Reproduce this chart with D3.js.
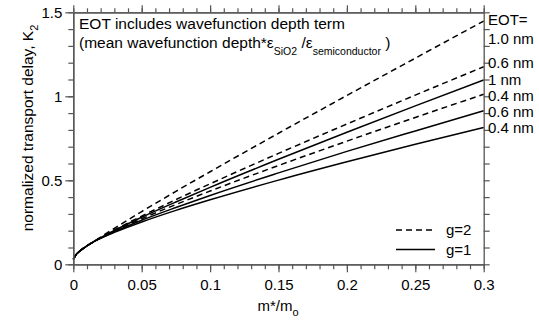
<!DOCTYPE html>
<html><head><meta charset="utf-8">
<script src="https://cdn.jsdelivr.net/npm/d3@7"></script>
<style>body{margin:0;background:#fff}svg{display:block}text{font-family:"Liberation Sans",Arial,sans-serif;fill:#000}</style>
</head><body>
<svg id="c" width="539" height="320"></svg>
<script>
const massRatio = [0, 0.0025, 0.005, 0.01, 0.015, 0.02, 0.03, 0.05, 0.075, 0.1, 0.15, 0.2, 0.25, 0.3];
const g2_eot10 = [0.030, 0.062, 0.080, 0.110, 0.135, 0.162, 0.214, 0.314, 0.434, 0.551, 0.780, 1.005, 1.227, 1.448];
const g2_eot06 = [0.030, 0.062, 0.080, 0.110, 0.135, 0.159, 0.204, 0.287, 0.385, 0.479, 0.660, 0.835, 1.007, 1.176];
const g1_eot10 = [0.030, 0.062, 0.080, 0.110, 0.135, 0.158, 0.201, 0.280, 0.371, 0.458, 0.625, 0.786, 0.943, 1.097];
const g2_eot04 = [0.030, 0.062, 0.080, 0.110, 0.135, 0.157, 0.198, 0.271, 0.356, 0.436, 0.588, 0.733, 0.874, 1.012];
const g1_eot06 = [0.030, 0.062, 0.080, 0.110, 0.135, 0.156, 0.194, 0.262, 0.338, 0.410, 0.544, 0.672, 0.794, 0.914];
const g1_eot04 = [0.030, 0.062, 0.080, 0.110, 0.135, 0.155, 0.190, 0.252, 0.321, 0.384, 0.501, 0.610, 0.714, 0.815];
const seriesNames = ["g=2, 1.0 nm", "g=2, 0.6 nm", "g=1, 1 nm", "g=2, 0.4 nm", "g=1, 0.6 nm", "g=1, 0.4 nm"];
const seriesDashed = [true, true, false, true, false, false];
const eotLabels = ["EOT=", "1.0 nm", "0.6 nm", "1 nm", "0.4 nm", "0.6 nm", "0.4 nm"];
const xTicks = [0, 0.05, 0.1, 0.15, 0.2, 0.25, 0.3];
const xTickLabels = ["0", "0.05", "0.1", "0.15", "0.2", "0.25", "0.3"];
const yTicks = [0, 0.5, 1, 1.5];
const yTickLabels = ["0", "0.5", "1", "1.5"];
const legendNames = ["g=2", "g=1"];

const allSeries = [g2_eot10, g2_eot06, g1_eot10, g2_eot04, g1_eot06, g1_eot04];
const svg = d3.select("#c");
const L = 73.3, R = 483.7, T = 12.3, B = 264.3;
const x = d3.scaleLinear().domain([0, 0.3]).range([L, R]);
const y = d3.scaleLinear().domain([0, 1.5]).range([B, T]);
const axisCol = "#555";
const FF = "Liberation Sans, Arial, sans-serif";

// curves
const line = d3.line().x(d => x(d[0])).y(d => y(d[1])).curve(d3.curveMonotoneX);
allSeries.forEach((s, i) => {
  svg.append("path").datum(massRatio.map((m, j) => [m, s[j]]))
    .attr("d", line).attr("fill", "none").attr("stroke", "#000")
    .attr("stroke-width", 1.5)
    .attr("stroke-dasharray", seriesDashed[i] ? "6,4" : null);
});

// axes
const minorX = d3.range(0, 0.3001, 0.01);
const minorY = d3.range(0, 1.5001, 0.1);
function styleAxis(g) {
  g.selectAll("path").attr("stroke", axisCol).attr("stroke-width", 1.3);
  g.selectAll("line").attr("stroke", axisCol).attr("stroke-width", 1.2);
}
svg.append("g").attr("transform", `translate(0,${B})`)
  .call(d3.axisBottom(x).tickValues(minorX).tickSize(5).tickSizeOuter(0).tickFormat(""))
  .call(styleAxis);
const gb = svg.append("g").attr("transform", `translate(0,${B})`)
  .call(d3.axisBottom(x).tickValues(xTicks).tickSize(8).tickSizeOuter(0).tickPadding(7)
    .tickFormat((d, i) => xTickLabels[i]))
  .call(styleAxis);
gb.selectAll("text").attr("font-size", 15).attr("fill", "#000").attr("font-family", FF);
svg.append("g").attr("transform", `translate(0,${T})`)
  .call(d3.axisTop(x).tickValues(minorX).tickSize(4).tickSizeOuter(0).tickFormat(""))
  .call(styleAxis);
svg.append("g").attr("transform", `translate(0,${T})`)
  .call(d3.axisTop(x).tickValues(xTicks).tickSize(7).tickSizeOuter(0).tickFormat(""))
  .call(styleAxis);
svg.append("g").attr("transform", `translate(${L},0)`)
  .call(d3.axisLeft(y).tickValues(minorY).tickSize(5).tickSizeOuter(0).tickFormat(""))
  .call(styleAxis);
const gl = svg.append("g").attr("transform", `translate(${L},0)`)
  .call(d3.axisLeft(y).tickValues(yTicks).tickSize(8).tickSizeOuter(0).tickPadding(3)
    .tickFormat((d, i) => yTickLabels[i]))
  .call(styleAxis);
gl.selectAll("text").attr("font-size", 15).attr("fill", "#000").attr("font-family", FF);
svg.append("g").attr("transform", `translate(${R},0)`)
  .call(d3.axisRight(y).tickValues(minorY).tickSize(6).tickSizeOuter(0).tickFormat(""))
  .call(styleAxis);

// axis titles
const xt = svg.append("text").attr("x", 278).attr("y", 311).attr("text-anchor", "middle").attr("font-size", 15);
xt.append("tspan").text("m*/m");
xt.append("tspan").attr("dy", 5).attr("font-size", 11).text("o");

const yt = svg.append("text").attr("transform", "translate(33,128) rotate(-90)").attr("text-anchor", "middle").attr("font-size", 15.5);
yt.append("tspan").text("normalized transport  delay, K");
yt.append("tspan").attr("dy", 5).attr("font-size", 11).text("2");

// annotation
svg.append("text").attr("x", 79).attr("y", 29).attr("font-size", 15.5).text("EOT includes wavefunction depth term");
const an = svg.append("text").attr("x", 79).attr("y", 47.5).attr("font-size", 15.5);
an.append("tspan").text("(mean wavefunction depth*ε");
an.append("tspan").attr("dy", 7).attr("font-size", 10.5).text("SiO2");
an.append("tspan").attr("dy", -7).text(" /ε");
an.append("tspan").attr("dy", 7).attr("font-size", 10.5).text("semiconductor");
an.append("tspan").attr("dy", -7).text(" )");

// EOT labels on right
const eotY = [25, 44, 68, 85, 101, 117, 133];
svg.selectAll("text.eot").data(eotLabels).enter().append("text")
  .attr("class", "eot").attr("x", 488).attr("y", (d, i) => eotY[i])
  .attr("font-size", 15).text(d => d);

// legend
const legY = [230, 249.5];
legendNames.forEach((n, i) => {
  svg.append("line").attr("x1", 396).attr("x2", 435).attr("y1", legY[i]).attr("y2", legY[i])
    .attr("stroke", "#000").attr("stroke-width", 1.6)
    .attr("stroke-dasharray", i === 0 ? "6,4" : null);
  svg.append("text").attr("x", 446).attr("y", legY[i] + 5).attr("font-size", 15).text(n);
});
</script>
</body></html>
